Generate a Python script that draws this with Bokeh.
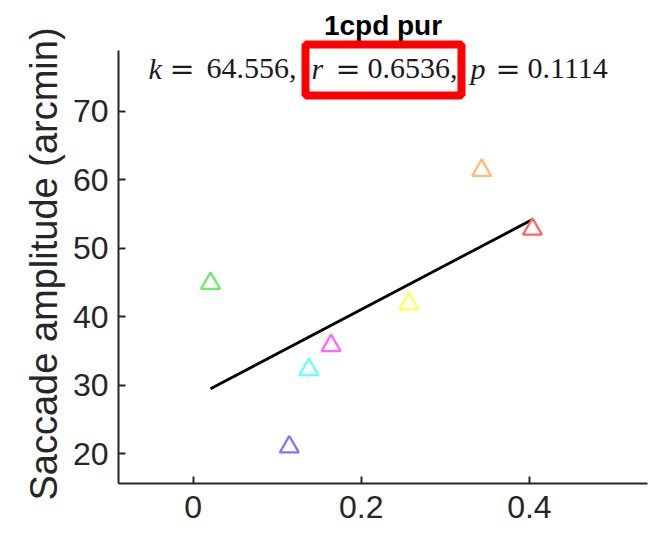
import numpy as np
from bokeh.plotting import figure
from bokeh.models import Label, BoxAnnotation, FixedTicker, NumeralTickFormatter, Range1d, Title
from bokeh.embed import file_html
from bokeh.resources import INLINE

# One point per subject
gain_1cpd = [0.0206, 0.1143, 0.1376, 0.164, 0.2567, 0.3432, 0.4036]
saccade_amp = [44.9, 21.0, 32.3, 35.8, 41.9, 61.4, 52.8]
subject_colors = ["#66ee66", "#7777ff", "#66ffff", "#ff66ff", "#ffff55", "#ffbb77", "#ff6666"]

# Linear fit statistics
fit_k = 64.556
fit_r = 0.6536
fit_p = 0.1114

x_ticks = [0, 0.2, 0.4]
y_ticks = [20, 30, 40, 50, 60, 70]
x_lim = (-0.0889, 0.5405)
y_lim = (15.66, 78.9)

AXIS_COLOR = "#262626"
W, H = 656, 536
LEFT, RIGHT, BOTTOM = 118, 647, 483   # frame edges on the canvas
AXIS_TOP = 50                          # where the y axis line stops

# The frame reaches the top of the canvas so the heading and the
# highlight box are drawn inside it; the y axis line is bounded to y_lim.
px_per_unit = (BOTTOM - AXIS_TOP) / (y_lim[1] - y_lim[0])
y_top = y_lim[0] + BOTTOM / px_per_unit

p = figure(width=W, height=H, output_backend="svg", toolbar_location=None,
           x_range=Range1d(*x_lim), y_range=Range1d(y_lim[0], y_top),
           min_border_left=LEFT, min_border_right=W - RIGHT,
           min_border_top=0, min_border_bottom=H - BOTTOM,
           background_fill_color="white", border_fill_color="white")
p.outline_line_color = None
p.grid.visible = False

for ax in (p.xaxis[0], p.yaxis[0]):
    ax.axis_line_color = AXIS_COLOR
    ax.axis_line_width = 2
    ax.major_tick_line_color = AXIS_COLOR
    ax.major_tick_line_width = 2
    ax.major_tick_in = 7
    ax.major_tick_out = 0
    ax.minor_tick_line_color = None
    ax.major_label_text_font = "Liberation Sans"
    ax.major_label_text_font_size = "32px"
    ax.major_label_text_color = AXIS_COLOR

p.xaxis.ticker = FixedTicker(ticks=x_ticks)
p.xaxis.formatter = NumeralTickFormatter(format="0.[0]")
p.xaxis.major_label_standoff = 12
p.yaxis.ticker = FixedTicker(ticks=y_ticks)
p.yaxis.major_label_standoff = 10
p.yaxis.bounds = y_lim

# y axis caption, anchored at the bottom end of the axis and running upward
p.add_layout(Title(text="Saccade amplitude (arcmin)", align="left", offset=-17,
                   standoff=10, text_font="Liberation Sans", text_font_style="normal",
                   text_font_size="38px", text_color=AXIS_COLOR), "left")

# Regression line across the data span, slope k through the centroid
xs = np.array([min(gain_1cpd), max(gain_1cpd)])
ys = np.mean(saccade_amp) + fit_k * (xs - np.mean(gain_1cpd))
p.line(xs, ys, line_color="black", line_width=2.8)

p.scatter(gain_1cpd, saccade_amp, marker="triangle", size=19,
          fill_color=None, line_color=subject_colors, line_width=2.3)


def sx(cx):
    return cx - LEFT


def sy(cy):
    return BOTTOM - cy


# Heading
p.add_layout(Label(x=sx((LEFT + RIGHT) / 2), y=sy(25), x_units="screen", y_units="screen",
                   text="1cpd pur", text_font="Liberation Sans", text_font_style="bold",
                   text_font_size="28px", text_color="black", text_align="center",
                   text_baseline="alphabetic"))

# Fit statistics line
stats = [
    ("k", 148, "italic", "left", "Liberation Serif"),
    ("=", 181.5, "normal", "center", "DejaVu Serif"),
    (f"{fit_k:.3f},", 206, "normal", "left", "Liberation Serif"),
    ("r", 311, "italic", "left", "Liberation Serif"),
    ("=", 347.5, "normal", "center", "DejaVu Serif"),
    (f"{fit_r:.4f},", 367, "normal", "left", "Liberation Serif"),
    ("p", 470, "italic", "left", "Liberation Serif"),
    ("=", 507.5, "normal", "center", "DejaVu Serif"),
    (f"{fit_p:.4f}", 527, "normal", "left", "Liberation Serif"),
]
for txt, cx, style, align, font in stats:
    p.add_layout(Label(x=sx(cx), y=sy(68), x_units="screen", y_units="screen",
                       text=txt, text_font=font, text_font_style=style,
                       text_font_size="30px", text_color="#1a1a1a", text_align=align,
                       text_baseline="alphabetic"))

# Highlight around the correlation coefficient
p.add_layout(BoxAnnotation(left=sx(305), right=sx(461), top=sy(44), bottom=sy(95),
                           left_units="screen", right_units="screen",
                           top_units="screen", bottom_units="screen",
                           fill_color=None, line_color="#ff0000", line_alpha=1.0,
                           line_width=8))

open("out.html", "w").write(file_html(p, INLINE))
